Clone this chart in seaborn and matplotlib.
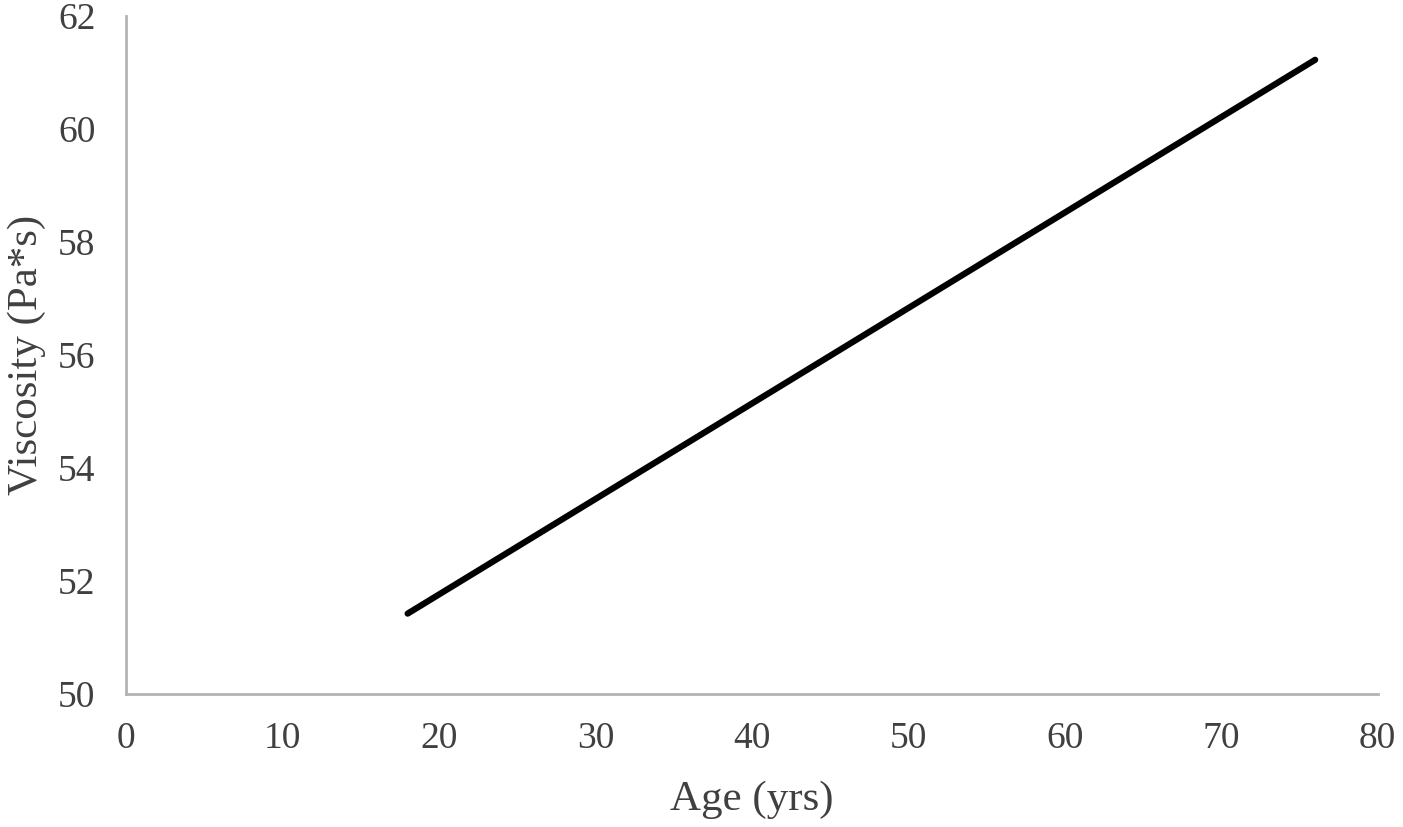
import matplotlib
matplotlib.use('Agg')
import matplotlib.pyplot as plt
import pandas as pd
import seaborn as sns

# Data
age = [18, 76]
viscosity = [51.42, 61.22]
x_ticks = [0, 10, 20, 30, 40, 50, 60, 70, 80]
y_ticks = [50, 52, 54, 56, 58, 60, 62]

df = pd.DataFrame({'Age': age, 'Viscosity': viscosity})

sns.set_style('white')
plt.rcParams['font.family'] = ['Liberation Serif', 'DejaVu Serif']

fig = plt.figure(figsize=(14.03, 8.27), dpi=100)
ax = fig.add_axes([0.0898, 0.161, 0.8922, 0.820])

sns.lineplot(data=df, x='Age', y='Viscosity', color='black', linewidth=4.5,
             solid_capstyle='round', ax=ax)

ax.set_xlim(0, 80)
ax.set_ylim(50, 62)
ax.set_xticks(x_ticks)
ax.set_yticks(y_ticks)
ax.tick_params(axis='both', length=0, labelsize=27, labelcolor='#404040')
ax.tick_params(axis='x', pad=20)
ax.tick_params(axis='y', pad=22)

for side in ['top', 'right']:
    ax.spines[side].set_visible(False)
for side in ['left', 'bottom']:
    ax.spines[side].set_color('#b3b3b3')
    ax.spines[side].set_linewidth(2)

ax.set_xlabel('Age (yrs)', fontsize=31, color='#404040')
ax.set_ylabel('Viscosity (Pa*s)', fontsize=31, color='#404040')
ax.xaxis.set_label_coords(0.5, -0.128)
ax.yaxis.set_label_coords(-0.064, 0.5)

fig.savefig('out.png', dpi=100)
